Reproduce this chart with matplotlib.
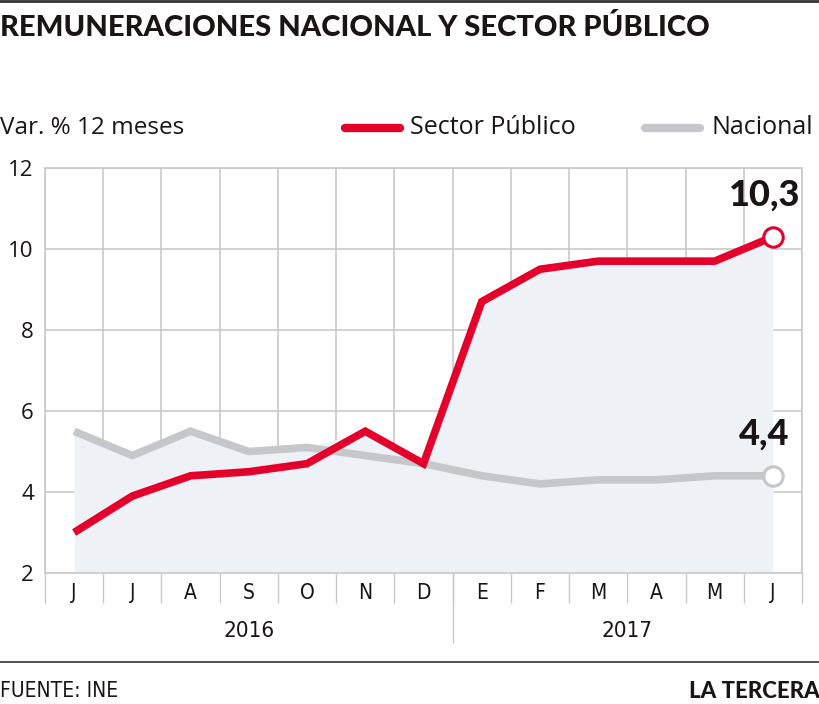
import matplotlib
matplotlib.use("Agg")
from matplotlib import pyplot as plt
from matplotlib.lines import Line2D
import numpy as np

months = ["J", "J", "A", "S", "O", "N", "D", "E", "F", "M", "A", "M", "J"]
years = ["2016", "2017"]
sector_publico = [3.0, 3.9, 4.4, 4.5, 4.7, 5.5, 4.7, 8.7, 9.5, 9.7, 9.7, 9.7, 10.3]
nacional = [5.5, 4.9, 5.5, 5.0, 5.1, 4.9, 4.7, 4.4, 4.2, 4.3, 4.3, 4.4, 4.4]
y_ticks = [2, 4, 6, 8, 10, 12]

red = "#e4002b"
grey = "#c6c7cb"
grid_c = "#c9c9c9"
fill_c = "#eef1f5"
txt = "#1a1414"
narrow = dict(family="DejaVu Sans", fontstretch="condensed")

fig = plt.figure(figsize=(8.2, 7.04), dpi=100)
ax = fig.add_axes([45 / 820, 1 - 573 / 704, (802 - 45) / 820, (573 - 168) / 704])

x = np.arange(len(months))
# shaded area under the upper of the two lines
ax.fill_between(x, 2, np.maximum(sector_publico, nacional), color=fill_c, lw=0, zorder=1)
ax.plot(x, nacional, color=grey, lw=5.5, solid_capstyle="butt", solid_joinstyle="miter", zorder=3)
ax.plot(x, sector_publico, color=red, lw=5.5, solid_capstyle="butt", solid_joinstyle="miter", zorder=4)
ax.plot(x[-1], nacional[-1], "o", ms=14, mfc="white", mec=grey, mew=2.2, zorder=5)
ax.plot(x[-1], sector_publico[-1], "o", ms=14, mfc="white", mec=red, mew=2.2, zorder=5)

for v in [sector_publico[-1], nacional[-1]]:
    ax.annotate(f"{v:.1f}".replace(".", ","), (x[-1], v), xytext=(-6, 18), textcoords="offset points",
                ha="center", va="bottom", fontsize=26, fontweight="black", family="Lato", color=txt)

ax.set_xlim(-0.5, len(months) - 0.5)
ax.set_ylim(2, 12)
ax.set_yticks(y_ticks)
ax.set_yticklabels([str(t) for t in y_ticks], fontsize=16, family="Open Sans", color=txt)
ax.tick_params(axis="y", length=0, pad=8)
ax.set_xticks(np.arange(-0.5, len(months)))
ax.set_xticklabels([])
ax.tick_params(axis="x", length=21.6, width=1, color=grid_c, direction="out")
ax.grid(True, color=grid_c, lw=1.2, zorder=0)
ax.set_axisbelow(True)
for side in ["left", "top", "right", "bottom"]:
    ax.spines[side].set_color(grid_c)
    ax.spines[side].set_linewidth(1.2)

for i, m in enumerate(months):
    ax.text(i, -0.05, m, transform=ax.get_xaxis_transform(), ha="center", va="center",
            fontsize=15, color=txt, **narrow)

# year labels and divider
ax.text(3.0, -0.142, years[0], transform=ax.get_xaxis_transform(), ha="center", va="center",
        fontsize=16, color=txt, **narrow)
ax.text(9.5, -0.142, years[1], transform=ax.get_xaxis_transform(), ha="center", va="center",
        fontsize=16, color=txt, **narrow)
ax.add_line(Line2D([6.5, 6.5], [0, -0.17], transform=ax.get_xaxis_transform(), color=grid_c, lw=1, clip_on=False))

# header
fig.add_artist(Line2D([0, 1], [0.999, 0.999], color="#333333", lw=2))
fig.text(0.0, 1 - 27 / 704, "REMUNERACIONES NACIONAL Y SECTOR PÚBLICO", ha="left", va="center",
         fontsize=21, fontweight="black", family="Lato", color=txt)
fig.text(0.0, 1 - 128 / 704, "Var. % 12 meses", ha="left", va="center", fontsize=17.5, family="Open Sans", color=txt)
fig.add_artist(Line2D([345 / 820, 400 / 820], [1 - 128 / 704] * 2, color=red, lw=6, solid_capstyle="round"))
fig.text(410 / 820, 1 - 128 / 704, "Sector Público", ha="left", va="center", fontsize=18, family="Open Sans", color=txt)
fig.add_artist(Line2D([645 / 820, 700 / 820], [1 - 128 / 704] * 2, color=grey, lw=6, solid_capstyle="round"))
fig.text(712 / 820, 1 - 128 / 704, "Nacional", ha="left", va="center", fontsize=18, family="Open Sans", color=txt)

# footer
fig.add_artist(Line2D([0, 1], [1 - 662 / 704] * 2, color="#333333", lw=1.2))
fig.text(0.0, 1 - 691 / 704, "FUENTE: INE", ha="left", va="center", fontsize=15, color=txt, **narrow)
fig.text(1.0, 1 - 691 / 704, "LA TERCERA", ha="right", va="center", fontsize=16, fontweight="black",
         family="Lato", color=txt)

fig.savefig("out.png", dpi=100)
